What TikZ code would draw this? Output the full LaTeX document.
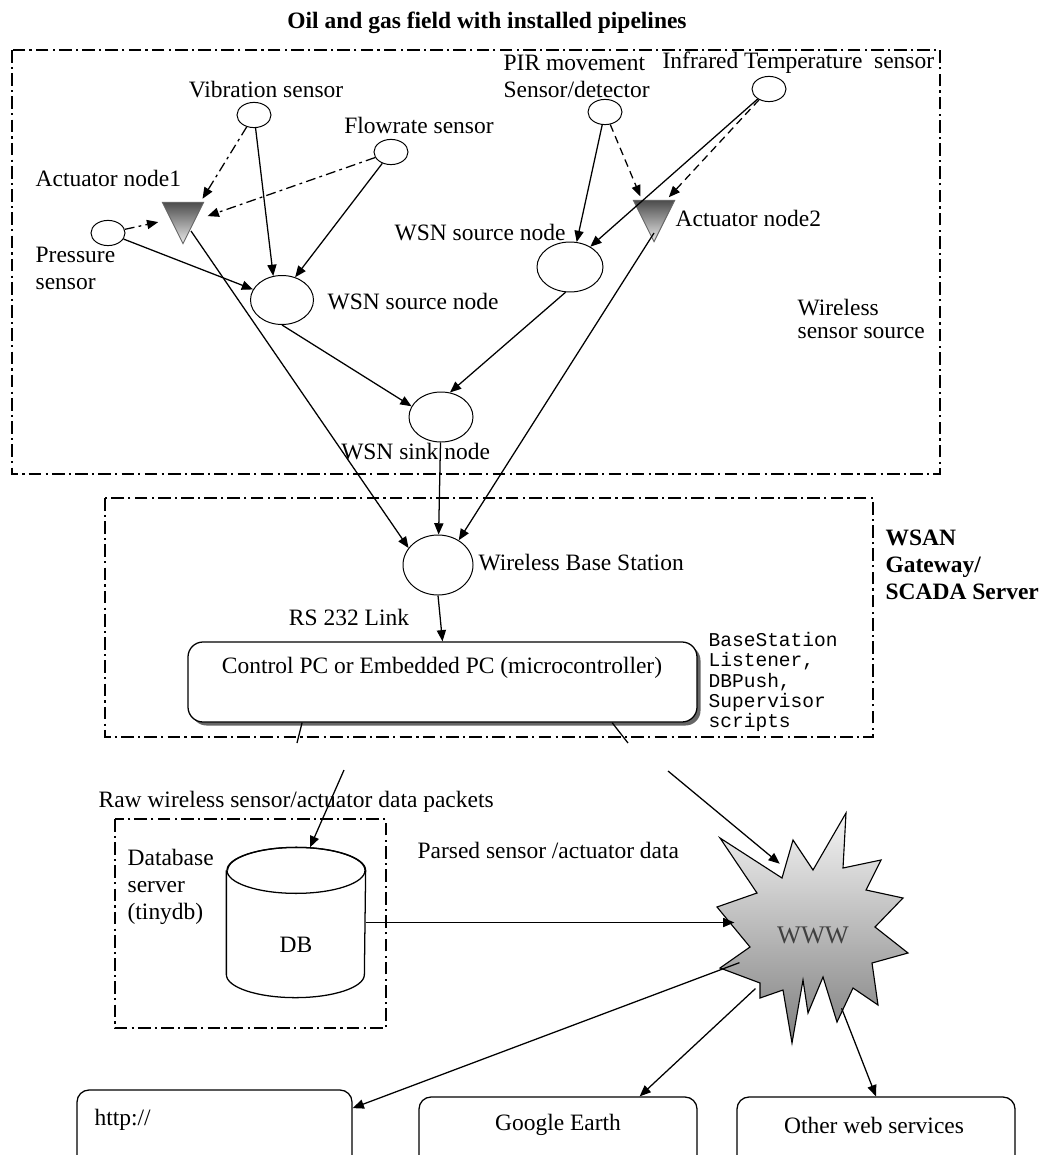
\documentclass[tikz,border=0pt]{standalone}
\usepackage{fontspec}
\setmainfont{Liberation Serif}
\newfontfamily\codefont{Liberation Mono}
\usetikzlibrary{arrows.meta,positioning,calc,shapes.geometric,shadows}
\newcommand\basefont{\fontsize{16.7}{19.2}\selectfont}

\begin{document}
\begin{tikzpicture}[font=\basefont, line width=0.9pt,
  arr/.style={-{Triangle[length=8pt,width=6.5pt]}},
  zone/.style={line width=0.8pt, dash pattern=on 9pt off 3pt on 1.5pt off 3pt},
  sens/.style={ellipse, draw, line width=0.7pt, minimum width=0.85cm, minimum height=0.63cm, inner sep=0pt},
  wsn/.style={ellipse, draw, line width=0.7pt, inner sep=0pt},
  act/.style={minimum size=1cm, inner sep=0pt},
  acttri/.style={draw=black!60, line width=0.7pt, top color=black!70, bottom color=black!8},
  ddot/.style={arr, dash pattern=on 7pt off 3pt on 2pt off 3pt, shorten >=3pt},
  dsh/.style={arr, dash pattern=on 5.5pt off 3.5pt, shorten >=3pt},
  svc/.style={draw, rounded corners=0.3cm, minimum height=2.325cm, minimum width=6.95cm},
  lbl/.style={anchor=west, align=left, inner sep=0pt}]
  \useasboundingbox (0,0) rectangle (26.125,-28.875);
  \clip (0,0) rectangle (26.125,-28.875);

  \node[font=\basefont\bfseries] (title) at (12.175,-0.575) {Oil and gas field with installed pipelines};
  \draw[zone] (0.3,-1.25) rectangle (23.5,-11.85);
  \draw[zone] (2.625,-12.45) rectangle (21.825,-18.425);
  \draw[zone] (2.875,-20.475) rectangle (9.65,-25.7);

  \node[sens] (vib) at (6.35,-2.875) {}; \node (viblbl) at (6.65,-2.25) {Vibration sensor};
  \node[sens] (flow) at (9.775,-3.8) {}; \node (flowlbl) at (10.475,-3.125) {Flowrate sensor};
  \node[sens] (press) at (2.7,-5.825) {}; \node[lbl] (presslbl) at (0.875,-6.7125) {Pressure\\sensor};
  \node[sens] (pir) at (15.125,-2.8) {}; \node[lbl] (pirlbl) at (12.575,-1.9) {PIR movement\\Sensor/detector};
  \node[sens] (ir) at (19.225,-2.225) {}; \node[lbl] (irlbl) at (16.55,-1.575) {Infrared Temperature\ \ sensor};

  \node[act] (act1) at (4.575,-5.575) {}; \node[lbl] (act1lbl) at (0.875,-4.45) {Actuator node1};
  \draw[acttri] (act1.north west) -- (act1.north east) -- (act1.south) -- cycle;
  \node[act] (act2) at (16.35,-5.525) {}; \node[lbl] (act2lbl) at (16.875,-5.45) {Actuator node2};
  \draw[acttri] (act2.north west) -- (act2.north east) -- (act2.south) -- cycle;

  \node[wsn, minimum width=1.575cm, minimum height=1.225cm] (src1) at (7.05,-7.5) {};
  \node[lbl] (src1lbl) at (8.175,-7.55) {WSN source node};
  \node[wsn, minimum width=1.65cm, minimum height=1.25cm] (src2) at (14.25,-6.675) {};
  \node[lbl] (src2lbl) at (9.85,-5.825) {WSN source node};
  \node[wsn, minimum width=1.6cm, minimum height=1.25cm] (sink) at (11.025,-10.425) {};
  \node (sinklbl) at (10.39,-11.3) {WSN sink node};
  \node[lbl, font=\fontsize{16.7}{16.4}\selectfont] (wsslbl) at (19.925,-7.9625) {Wireless\\sensor source};

  \node[wsn, minimum width=1.75cm, minimum height=1.5cm] (base) at (10.95,-14.125) {};
  \node[lbl] (baselbl) at (11.95,-14.075) {Wireless Base Station};
  \node (rslbl) at (8.725,-15.425) {RS 232 Link};
  \node[draw, fill=white, rounded corners=0.375cm, minimum width=12.725cm, minimum height=2cm,
    drop shadow={shadow xshift=2.5pt, shadow yshift=-2.5pt, fill=black!60, opacity=1}] (ctrl) at (11.0625,-17.05) {};
  \node (ctrllbl) at (11.05,-16.7) {Control PC or Embedded PC (microcontroller)};
  \node[lbl, font=\codefont\fontsize{13.9}{14.3}\selectfont] (scripts) at (17.7,-17.05)
    {BaseStation\\Listener,\\DBPush,\\Supervisor\\scripts};
  \node[lbl, font=\basefont\bfseries] (gwlbl) at (22.125,-14.125) {WSAN\\Gateway/\\SCADA Server};

  \node[lbl] (rawlbl) at (2.45,-20.05) {Raw wireless sensor/actuator data packets};
  \node[lbl] (parsedlbl) at (10.425,-21.25) {Parsed sensor /actuator data};
  \node[lbl] (dbsrvlbl) at (3.175,-22.1625) {Database\\server\\(tinydb)};
  \node[minimum width=3.45cm, minimum height=3.725cm, inner sep=0pt] (db) at (7.4,-23.0625) {};
  \draw[fill=white] ([yshift=-0.575cm]db.north west) -- ([yshift=0.575cm]db.south west)
    arc[start angle=180, end angle=360, x radius=1.725cm, y radius=0.575cm]
    -- ([yshift=-0.575cm]db.north east) arc[start angle=0, end angle=180, x radius=1.725cm, y radius=0.575cm];
  \draw ([yshift=-0.575cm]db.north) ellipse[x radius=1.725cm, y radius=0.575cm];
  \node (dblbl) at (7.4,-23.625) {DB};

  \draw[top color=black!4, bottom color=black!50, line width=0.8pt, shift={(20.325,-23.375)}]
    (0.825,3.05) -- (0.75,1.675) -- (1.7,1.875) -- (1.325,1.125) -- (2.25,0.925) -- (1.55,0.2)
    -- (2.375,-0.45) -- (1.475,-0.7) -- (1.625,-1.75) -- (1.0,-1.325) -- (0.6,-2.175) -- (0.25,-1.05)
    -- (-0.125,-1.95) -- (-0.25,-1.125) -- (-0.525,-2.7) -- (-0.75,-1.375) -- (-1.325,-1.575)
    -- (-1.325,-1.2) -- (-2.325,-0.825) -- (-1.575,-0.3) -- (-2.4,0.7) -- (-1.4,1.05)
    -- (-2.325,2.425) -- (-0.775,1.425) -- (-0.5,2.375) -- (0,1.625) -- cycle;
  \node[circle, minimum size=3.9cm, inner sep=0pt, text=black!75, font=\fontsize{18}{20}\selectfont] (www) at (20.325,-23.375) {WWW};

  \node[svc, minimum width=6.875cm, minimum height=2.5cm] (http) at (5.3625,-28.5) {};
  \node[lbl] (httplbl) at (2.35,-28.0) {http://};
  \node[svc] (gearth) at (13.95,-28.5875) {}; \node (gearthlbl) at (13.95,-28.125) {Google Earth};
  \node[svc] (other) at (21.9,-28.5875) {}; \node (otherlbl) at (21.85,-28.125) {Other web services};

  \coordinate (cutL) at (7.425,-18.575); \coordinate (rawL) at (8.6,-19.25);
  \coordinate (cutR) at (15.7,-18.575); \coordinate (rawR) at (16.7,-19.275);

  \draw[arr] (vib) -- (src1.110);
  \draw[arr] (flow) -- (src1.60);
  \draw[arr] (press) -- (src1.160);
  \draw[ddot] (vib) -- (act1.50);
  \draw[ddot] (flow) -- (act1.15);
  \draw[ddot] (press) -- (act1.175);
  \draw[arr] (pir) -- (src2.75);
  \draw[arr] (ir) -- (src2.45);
  \draw[dsh] (pir) -- (act2.120);
  \draw[dsh] (ir) -- (act2.60);
  \draw[arr] (src1.south) -- (sink.160);
  \draw[arr] (src2.260) -- (sink.70);
  \draw[arr] ([xshift=0.2cm,yshift=-0.2cm]act1.center) -- (base.150);
  \draw[arr] (sink) -- (base);
  \draw[arr] ([yshift=-0.3cm]act2.center) -- (base.50);
  \draw[arr] (base.south) -- (ctrl.north);
  \draw ([xshift=-3.51cm]ctrl.south) -- (cutL);
  \draw[arr] (rawL) -- ([xshift=0.35cm]db.north);
  \draw ([xshift=4.24cm]ctrl.south) -- (cutR);
  \draw[arr] (rawR) -- (www.115);
  \draw[arr] (db.east) -- (db.east -| www.west);
  \draw[arr] (www) -- (http.13);
  \draw[arr] (www) -- (gearth.30);
  \draw[arr] (www) -- (other.north);
\end{tikzpicture}
\end{document}
